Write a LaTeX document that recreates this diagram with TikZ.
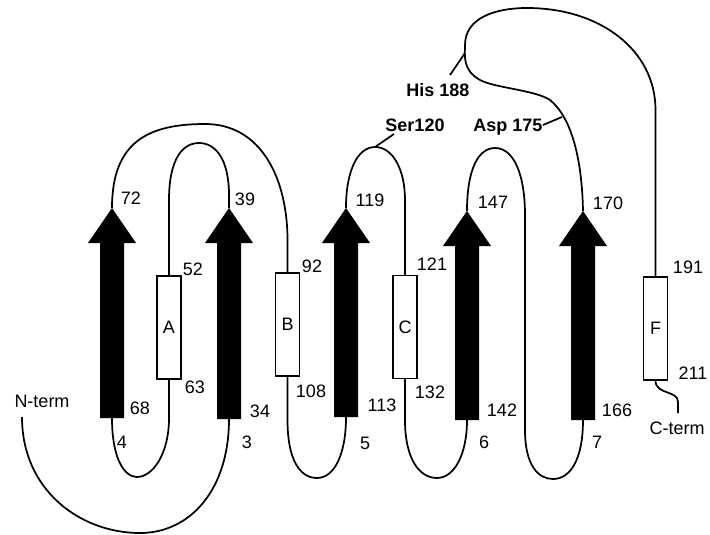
\documentclass[tikz,border=0pt]{standalone}
\usepackage{fontspec}
\setmainfont{Liberation Sans}
\newcommand\mystrand[4]{%
  \coordinate (#4t) at (#1,#2);
  \coordinate (#4b) at (#1,#3);
  \fill ({#1-12},#3) -- ({#1-12},{#2+35}) -- ({#1-24},{#2+35}) -- (#1,#2) --
        ({#1+24},{#2+35}) -- ({#1+12},{#2+35}) -- ({#1+12},#3) -- cycle;}
\begin{document}
\begin{tikzpicture}[x=0.75pt,y=-0.75pt,
  lbl/.style={font=\fontsize{13.5}{15}\selectfont, inner sep=0pt},
  blbl/.style={font=\fontsize{13.5}{15}\selectfont\bfseries, inner sep=0pt},
  helix/.style={draw, line width=1.2pt, fill=white, minimum width=18pt, minimum height=77pt,
                inner sep=0pt, font=\fontsize{13.5}{15}\selectfont},
  chain/.style={draw, line width=1.3pt}]
\useasboundingbox (0,0) rectangle (710,535);

% strands
\mystrand{112}{208}{418}{s1}
\mystrand{229}{208}{419}{s2}
\mystrand{346}{208}{417}{s3}
\mystrand{467}{211}{420}{s4}
\mystrand{583}{211}{420}{s5}

% helices
\node[helix] (hA) at (169,327.5) {A};
\node[helix] (hB) at (287.5,324.5) {B};
\node[helix] (hC) at (405,327) {C};
\node[helix] (hF) at (655.5,328.5) {F};

% free-end coordinates
\coordinate (nterm) at (22,417);
\coordinate (cterm) at (678,413);
\coordinate (ser) at (394,134);
\coordinate (his) at (450,75);
\coordinate (asp) at (543,125);
\coordinate (serp) at (375,147);
\coordinate (hisp) at (465,53);
\coordinate (aspp) at (562,117);

% loops
\path[chain] (s1t) .. controls (112,142) and (148,124) .. (205,124)
  .. controls (262,124) and (287.5,180) .. (287.5,240) -- (hB.north);
\path[chain] (hA.north) -- (169,200) .. controls (169,160) and (182,143) .. (199,143)
  .. controls (216,143) and (229,160) .. (229,195) -- (s2t);
\path[chain] (s1b) .. controls (112,460) and (125,477) .. (137,477)
  .. controls (152,477) and (169,455) .. (169,418) -- (hA.south);
\path[chain] (nterm) .. controls (22,490) and (80,533) .. (140,533)
  .. controls (190,533) and (229,490) .. (s2b);
\path[chain] (hB.south) -- (287.5,420) .. controls (287.5,460) and (300,478) .. (317,478)
  .. controls (334,478) and (346,455) .. (s3b);
\path[chain] (s3t) .. controls (346,170) and (358,147) .. (serp)
  .. controls (393,147) and (405,170) .. (405,200) -- (hC.north);
\path[chain] (hC.south) -- (405,420) .. controls (405,460) and (420,478) .. (437,478)
  .. controls (454,478) and (467,455) .. (s4b);
\path[chain] (s4t) .. controls (467,170) and (478,148) .. (495,148)
  .. controls (514,148) and (525,175) .. (525,215) -- (525,430)
  .. controls (525,465) and (538,479) .. (553,479)
  .. controls (570,479) and (583,460) .. (s5b);
\path[chain] (s5t) .. controls (582,160) and (572,118) .. (550,100)
  .. controls (535,90) and (495,88) .. (480,80)
  .. controls (462,70) and (465,55) .. (465,45)
  .. controls (465,18) and (495,8) .. (527,8)
  .. controls (600,8) and (655.5,50) .. (655.5,110) -- (hF.north);
\path[chain] (hF.south) .. controls (655.5,395) and (678,390) .. (678,402) -- (cterm);
\path[chain] (serp) -- (ser);
\path[chain] (hisp) -- (his);
\path[chain] (aspp) -- (asp);

% labels
\node[lbl] (l72) at (131,198) {72};
\node[lbl] (l39) at (245,199) {39};
\node[lbl] (l52) at (193,269) {52};
\node[lbl] (l63) at (195,387) {63};
\node[lbl] (l68) at (140,408) {68};
\node[lbl] (l4) at (122,442) {4};
\node[lbl] (l34) at (260,411) {34};
\node[lbl] (l3) at (247,442) {3};
\node[lbl] (l92) at (312,266) {92};
\node[lbl] (l108) at (311,391) {108};
\node[lbl] (l119) at (370,200) {119};
\node[lbl] (l113) at (382,405) {113};
\node[lbl] (l5) at (365,443) {5};
\node[lbl] (l121) at (432,264) {121};
\node[lbl] (l132) at (430,392) {132};
\node[lbl] (l147) at (493,202) {147};
\node[lbl] (l142) at (502,410) {142};
\node[lbl] (l6) at (484,442) {6};
\node[lbl] (l170) at (608,203) {170};
\node[lbl] (l166) at (617,410) {166};
\node[lbl] (l7) at (597,442) {7};
\node[lbl] (l191) at (688,267) {191};
\node[lbl] (l211) at (693,373) {211};
\node[lbl] (lN) at (42,401) {N-term};
\node[lbl] (lC) at (677,428) {C-term};
\node[blbl] (lSer) at (415,125) {Ser120};
\node[blbl] (lHis) at (438,90) {His 188};
\node[blbl] (lAsp) at (508,127) {Asp 175};
\end{tikzpicture}
\end{document}
